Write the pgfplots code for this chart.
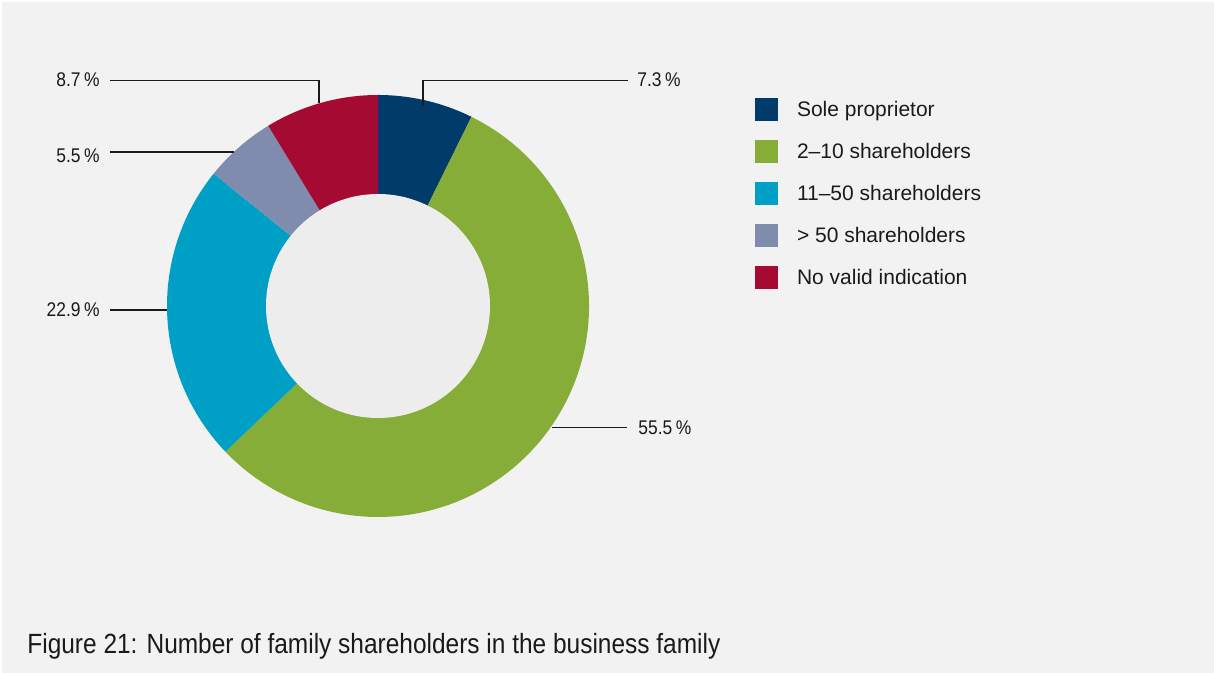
\documentclass[border=0pt]{standalone}
\usepackage{pgfplots}
\pgfplotsset{compat=1.18}
\usepackage{pgfplotstable}
\usepackage{fontspec}
\setmainfont{Liberation Sans}
\newfontfamily\condfont{Liberation Sans}[FakeStretch=0.88]

\definecolor{bg}{HTML}{F2F2F2}
\definecolor{innergray}{HTML}{EDEDED}
\definecolor{cSole}{HTML}{003B6A}
\definecolor{cTwo}{HTML}{87AD39}
\definecolor{cEleven}{HTML}{00A0C6}
\definecolor{cFifty}{HTML}{7F8CAE}
\definecolor{cNone}{HTML}{A50A32}
\definecolor{txt}{HTML}{1A1A1A}

\pgfplotstableread[col sep=comma]{
label,value,col
Sole proprietor,7.3,cSole
2–10 shareholders,55.5,cTwo
11–50 shareholders,22.9,cEleven
> 50 shareholders,5.5,cFifty
No valid indication,8.7,cNone
}\datatable

\newcommand{\pctfont}{\condfont\fontsize{9.9pt}{11pt}\selectfont}
\newcommand{\legfont}{\fontsize{10.5pt}{12pt}\selectfont}
\newcommand{\pct}{\hspace{0.18em}\%}

\begin{document}
\begin{tikzpicture}
% total of all values
\pgfplotstablegetrowsof{\datatable}
\pgfmathtruncatemacro{\lastrow}{\pgfplotsretval-1}
\def\total{0}
\pgfplotsforeachungrouped \i in {0,...,\lastrow}{%
  \pgfplotstablegetelem{\i}{value}\of\datatable
  \pgfmathsetmacro{\total}{\total+\pgfplotsretval}%
}
\pgfmathsetmacro{\degper}{360/\total}
\begin{axis}[
  x=0.5pt, y=0.5pt,
  xmin=0, xmax=1214, ymin=0, ymax=673,
  enlargelimits=false,
  hide axis,
  clip=false,
  legend image code/.code={\fill[#1] (0pt,-5.75pt) rectangle (11.5pt,5.75pt);},
  legend cell align=left,
  legend style={
    at={(axis cs:755,574.5)}, anchor=north west,
    draw=none, fill=none, inner sep=0pt, outer sep=0pt,
    row sep=9.5pt,
    font=\legfont, text=txt,
    nodes={inner sep=0pt},
    /tikz/every odd column/.append style={column sep=9.5pt},
  },
]
% background
\fill[white] (axis cs:0,0) rectangle (axis cs:1214,673);
\fill[bg] (axis cs:2,0) rectangle (axis cs:1214,671);

% donut wedges, clockwise from the top
\def\cum{0}
\pgfplotsforeachungrouped \i in {0,...,\lastrow}{%
  \pgfplotstablegetelem{\i}{value}\of\datatable
  \let\v\pgfplotsretval
  \pgfplotstablegetelem{\i}{col}\of\datatable
  \let\c\pgfplotsretval
  \pgfmathsetmacro{\a}{90-\degper*\cum}%
  \pgfmathsetmacro{\b}{90-\degper*(\cum+\v)}%
  \pgfmathsetmacro{\px}{378+211*cos(\a)}%
  \pgfmathsetmacro{\py}{367+211*sin(\a)}%
  \edef\temp{\noexpand\fill[\c] (axis cs:378,367) -- (axis cs:\px,\py) arc[start angle=\a, end angle=\b, radius=105.5pt] -- cycle;}%
  \temp
  \pgfmathsetmacro{\cum}{\cum+\v}%
}
\fill[innergray] (axis cs:378,367) circle[radius=56pt];

% leader lines
\draw[txt, line width=0.65pt] (axis cs:319,570) |- (axis cs:110,592.3);
\draw[txt, line width=0.65pt] (axis cs:110,521) -- (axis cs:234,521);
\draw[txt, line width=0.65pt] (axis cs:110,363) -- (axis cs:167,363);
\draw[txt, line width=0.65pt] (axis cs:423,567) |- (axis cs:628,592.3);
\draw[txt, line width=0.65pt] (axis cs:552,245.5) -- (axis cs:627,245.5);

% percentage labels
\node[anchor=east, inner sep=0pt, text=txt, font=\pctfont] at (axis cs:100,593) {8.7\pct};
\node[anchor=east, inner sep=0pt, text=txt, font=\pctfont] at (axis cs:100,517.5) {5.5\pct};
\node[anchor=east, inner sep=0pt, text=txt, font=\pctfont] at (axis cs:100,363) {22.9\pct};
\node[anchor=west, inner sep=0pt, text=txt, font=\pctfont] at (axis cs:637,593) {7.3\pct};
\node[anchor=west, inner sep=0pt, text=txt, font=\pctfont] at (axis cs:638,245) {55.5\pct};

% legend
\addlegendimage{fill=cSole, draw=none}
\addlegendentry{Sole proprietor}
\addlegendimage{fill=cTwo, draw=none}
\addlegendentry{2–10 shareholders}
\addlegendimage{fill=cEleven, draw=none}
\addlegendentry{11–50 shareholders}
\addlegendimage{fill=cFifty, draw=none}
\addlegendentry{> 50 shareholders}
\addlegendimage{fill=cNone, draw=none}
\addlegendentry{No valid indication}

% caption
\node[anchor=base west, inner sep=0pt, text=txt, font=\condfont\fontsize{13.9pt}{16pt}\selectfont] at (axis cs:27,19.5) {Figure 21: Number of family shareholders in the business family};
\end{axis}
\end{tikzpicture}
\end{document}
